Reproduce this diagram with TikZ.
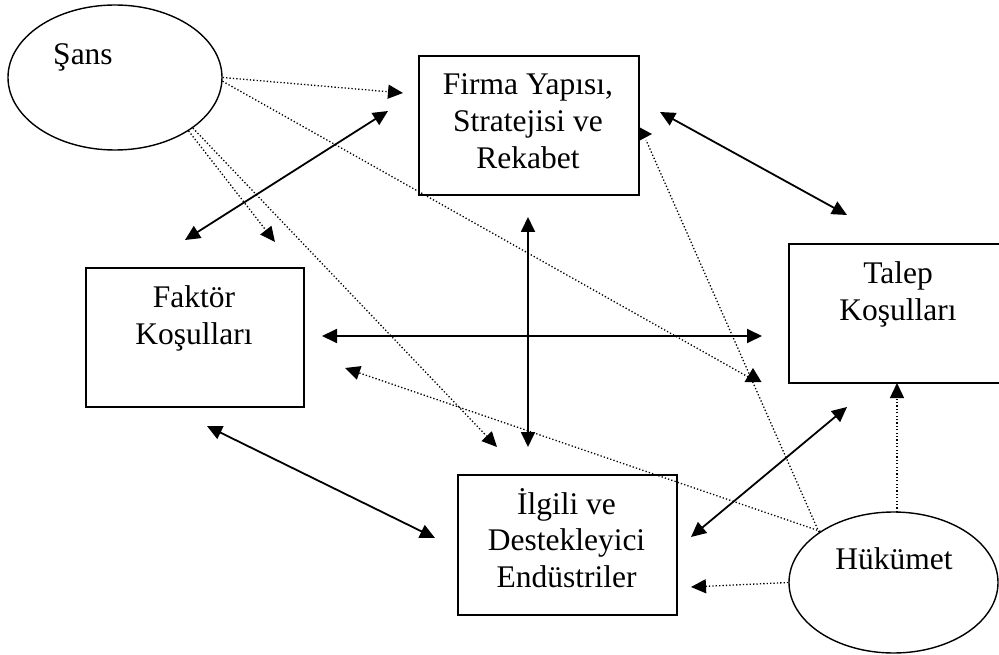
\documentclass[tikz,border=0pt]{standalone}
\usepackage{fontspec}
\setmainfont{Liberation Serif}
\usetikzlibrary{arrows.meta,shapes.geometric}

\begin{document}
\begin{tikzpicture}[x=1pt,y=-1pt,
  box/.style={draw, line width=1.7pt, inner sep=0pt, anchor=north west,
              minimum width=220pt, minimum height=139pt},
  oval/.style={draw, ellipse, line width=1.4pt, inner sep=0pt},
  lbl/.style={font=\fontsize{31.5}{36}\selectfont, inner sep=0pt, anchor=base},
  link/.style={line width=1.8pt, {Triangle[length=15pt, width=14pt]}-{Triangle[length=15pt, width=14pt]}},
  infl/.style={line width=1.3pt, dash pattern=on 1.3pt off 2.1pt},
  inflarrow/.style={infl, -{Triangle[length=15pt, width=14pt]}}
]
\clip (0,0) rectangle (999,655);

% the two outside forces
\node[oval, minimum width=214pt, minimum height=145pt] (sans) at (115,77.5) {};
\node[oval, minimum width=209pt, minimum height=141pt] (hukumet) at (893.5,582.5) {};
\node[lbl] (sansT) at (83,65) {Şans};
\node[lbl] (hukumetT) at (894,569.3) {Hükümet};

% the four corners of the diamond
\node[box] (firma) at (418,55) {};
\node[box, minimum width=218pt] (faktor) at (85,267) {};
\node[box] (talep) at (788,243) {};
\node[box, minimum width=219pt, minimum height=140pt] (ilgili) at (457,474) {};

\node[lbl] (firmaT1) at (528,95) {Firma Yapısı,};
\node[lbl] (firmaT2) at (528,131.7) {Stratejisi ve};
\node[lbl] (firmaT3) at (528,168.3) {Rekabet};
\node[lbl] (faktorT1) at (194,308) {Faktör};
\node[lbl] (faktorT2) at (194,344) {Koşulları};
\node[lbl] (talepT1) at (898,283.3) {Talep};
\node[lbl] (talepT2) at (898,320.5) {Koşulları};
\node[lbl] (ilgiliT1) at (566.5,514.3) {İlgili ve};
\node[lbl] (ilgiliT2) at (566.5,550.7) {Destekleyici};
\node[lbl] (ilgiliT3) at (566.5,587.3) {Endüstriler};

% end points of the mutual links
\coordinate (fiFa) at (388,111);  \coordinate (faFi) at (185,240);
\coordinate (fiTa) at (660,112);  \coordinate (taFi) at (847,215);
\coordinate (fiIl) at (528,217);  \coordinate (ilFi) at (528,447);
\coordinate (faTa) at (322,336);  \coordinate (taFa) at (762,336);
\coordinate (faIl) at (207,426);  \coordinate (ilFa) at (435,538);
\coordinate (taIl) at (847,407);  \coordinate (ilTa) at (691,537);

\draw[link] (faFi) -- (fiFa);
\draw[link] (fiTa) -- (taFi);
\draw[link] (fiIl) -- (ilFi);
\draw[link] (faTa) -- (taFa);
\draw[link] (faIl) -- (ilFa);
\draw[link] (ilTa) -- (taIl);

% influence of chance
\coordinate (sFi) at (403,93);
\coordinate (sTaEnd) at (750,378);
\coordinate (sTa) at (753,368);
\coordinate (sFa) at (275,242);
\coordinate (sIl) at (497,447);
\draw[inflarrow] (sans.east) -- (sFi);
\draw[infl] (sans.-2) -- (sTaEnd);
\fill (sTa) -- ++(-8.5,14) -- ++(17,0) -- cycle;
\draw[inflarrow] (sans.-36) -- (sFa);
\draw[inflarrow] (sans.-33) -- (sIl);

% influence of government
\coordinate (hFiEnd) at (646,140);
\coordinate (hFi) at (652,134);
\coordinate (hFa) at (345,368);
\coordinate (hIl) at (691,587);
\coordinate (hTaStart) at (897,512);
\coordinate (hTa) at (897,383);
\draw[infl] (hukumet.146) -- (hFiEnd);
\fill (hFi) -- ++(-14,-7.5) -- ++(0,15) -- cycle;
\draw[inflarrow] (hukumet.145) -- (hFa);
\draw[inflarrow] (hukumet.west) -- (hIl);
\draw[inflarrow] (hTaStart) -- (hTa);
\end{tikzpicture}
\end{document}
